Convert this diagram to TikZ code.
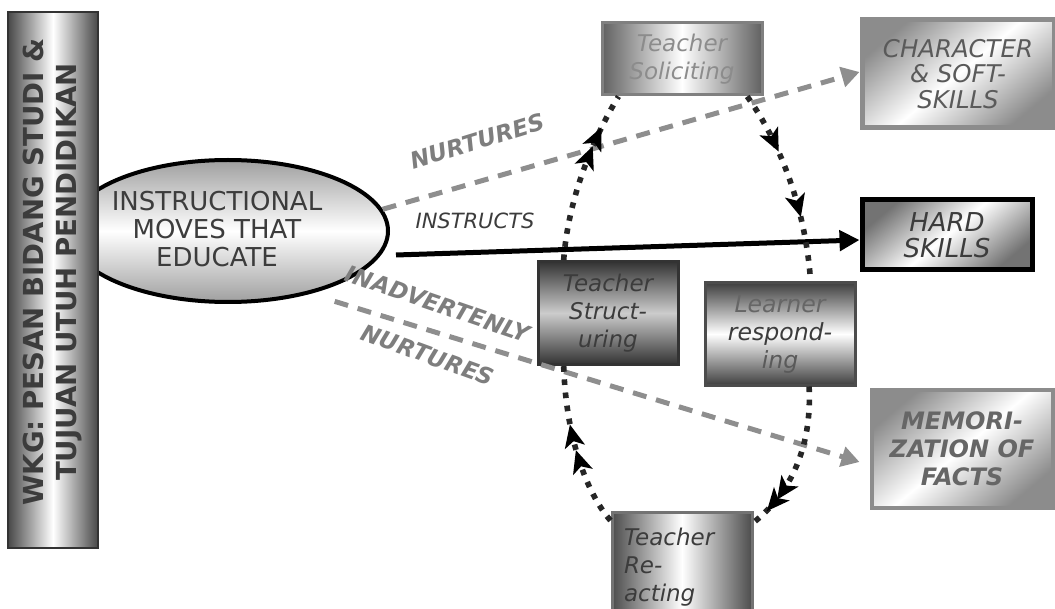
\documentclass[tikz,border=0pt]{standalone}
\usepackage{fontspec}
\setmainfont{DejaVu Sans}
\usetikzlibrary{arrows.meta,decorations.markings,shapes.geometric,calc}
\definecolor{txtdark}{HTML}{3C3C3C}
\definecolor{txtmid}{HTML}{5A5A5A}
\definecolor{txtlight}{HTML}{8C8C8C}
\definecolor{lblgray}{HTML}{7E7E7E}
\definecolor{dashgray}{HTML}{8E8E8E}
\begin{document}
\begin{tikzpicture}[x=0.5pt,y=-0.5pt,
  boxtxt/.style={font=\itshape\fontsize{11.5}{14}\selectfont, align=center, inner sep=0pt},
  hshade/.style={left color=#1, right color=#1, middle color=white},
  vshade/.style={top color=#1, bottom color=#1, middle color=white},
  dshade/.style={top color=#1, bottom color=#1, middle color=white, shading angle=40},
  lbl/.style={font=\bfseries\itshape\fontsize{11.5}{14}\selectfont, text=lblgray},
  graydash/.style={draw=dashgray, line width=2.5pt, dash pattern=on 7pt off 5pt,
    -{Triangle[length=9pt,width=10pt]}},
  cyc/.style 2 args={draw=black!85, line width=2.8pt, dash pattern=on 2.8pt off 3.8pt,
    decoration={markings,
      mark=at position #1 with {\fill[black, solid] (5pt,0pt) -- (-6.5pt,5.2pt) -- (-3.5pt,0pt) -- (-6.5pt,-5.2pt) -- cycle;},
      mark=at position #2 with {\fill[black, solid] (5pt,0pt) -- (-6.5pt,5.2pt) -- (-3.5pt,0pt) -- (-6.5pt,-5.2pt) -- cycle;}},
    postaction={decorate}}
]
\useasboundingbox (0,0) rectangle (1055,609);

% ellipse
\node[ellipse, draw=black, line width=2pt, vshade=gray!75, inner sep=0pt,
  minimum width=160pt, minimum height=71pt] (ell) at (228,231) {};
\node[text=txtdark, font=\fontsize{13}{14}\selectfont, align=center, inner sep=0pt]
  (elltxt) at (217,229) {INSTRUCTIONAL\\MOVES THAT\\EDUCATE};

% left bar
\node[rotate=90, draw=black!80, line width=1pt, hshade=black!72,
  minimum width=268pt, minimum height=45pt, inner sep=0pt, text=txtdark,
  font=\bfseries\fontsize{13.8}{16.5}\selectfont, align=center] (bar) at (53,280)
  {\hspace*{8pt}WKG: PESAN BIDANG STUDI \&\\\hspace*{8pt}TUJUAN UTUH PENDIDIKAN};

% boxes
\node[draw=black!50, line width=1.5pt, hshade=black!62, minimum width=80pt, minimum height=36pt,
  boxtxt, text=txtlight] (solic) at (682,59) {Teacher\\Soliciting};
\node[draw=black!45, line width=2.5pt, dshade=black!45, minimum width=96pt, minimum height=54pt,
  boxtxt, font=\itshape\fontsize{12.2}{12.8}\selectfont, text=txtmid] (char) at (958,74)
  {CHARACTER\\\& SOFT-\\SKILLS};
\node[draw=black, line width=2.5pt, dshade=black!55, minimum width=85pt, minimum height=35pt,
  boxtxt, font=\itshape\fontsize{13}{13}\selectfont, text=txtdark] (hard) at (947,235)
  {HARD\\SKILLS};
\node[draw=black!80, line width=1.5pt, top color=black!80, bottom color=black!80, middle color=black!20,
  minimum width=70pt, minimum height=51.5pt, boxtxt, text=txtdark] (struct) at (608,313)
  {Teacher\\Struct-\\uring};
\node[draw=black!70, line width=1.5pt, vshade=black!75,
  minimum width=75pt, minimum height=51pt, boxtxt, font=\itshape\fontsize{11.8}{14}\selectfont, text=txtdark] (learn) at (780,334)
  {\textcolor{black!60}{Learner}\\respond-\\\textcolor{txtmid}{ing}};
\node[draw=black!45, line width=2pt, dshade=black!45, minimum width=90.5pt, minimum height=59pt,
  boxtxt, font=\bfseries\itshape\fontsize{12}{14}\selectfont, text=black!60] (mem) at (962,449)
  {MEMORI-\\ZATION OF\\FACTS};
\node[draw=black!55, line width=1.5pt, hshade=black!70, minimum width=70pt, minimum height=55pt,
  boxtxt, align=left, text width=58pt, text=txtdark] (react) at (682,567)
  {Teacher\\Re-\\acting};

% main connectors
\draw[graydash] (ell.8) -- ([yshift=1pt]char.west);
\draw[line width=2.5pt, -{Triangle[length=10pt,width=10pt]}] ([shift={(6,24)}]ell.east) -- ([yshift=-2.5pt]hard.west);
\draw[graydash] ([shift={(19,9)}]ell.-35) -- ([shift={(-10,13)}]mem.west);

% labels
\node[lbl, rotate=17] (lnur) at (477,141) {NURTURES};
\node[font=\itshape\fontsize{10.5}{12}\selectfont, text=txtdark] (lins) at (475,221) {INSTRUCTS};
\node[lbl, rotate=-19] (linad) at (438,304) {INADVERTENLY};
\node[lbl, rotate=-20] (lnur2) at (428,355) {NURTURES};

% teaching cycle
\draw[cyc={0.62}{0.74}] ($(struct.north west)!0.19!(struct.north east)$)
  .. controls (568,200) and (592,140) .. ($(solic.south west)!0.11!(solic.south east)$);
\draw[cyc={0.27}{0.62}] ($(solic.south west)!0.9!(solic.south east)$)
  .. controls (775,135) and (805,200) .. ($(learn.north west)!0.7!(learn.north east)$);
\draw[cyc={0.72}{0.82}] ($(learn.south west)!0.69!(learn.south east)$)
  .. controls (812,440) and (795,490) .. ([yshift=-6pt]react.north east);
\draw[cyc={0.42}{0.58}] ([yshift=-5pt]react.north west)
  .. controls (588,495) and (566,440) .. ($(struct.south west)!0.19!(struct.south east)$);
\end{tikzpicture}
\end{document}
